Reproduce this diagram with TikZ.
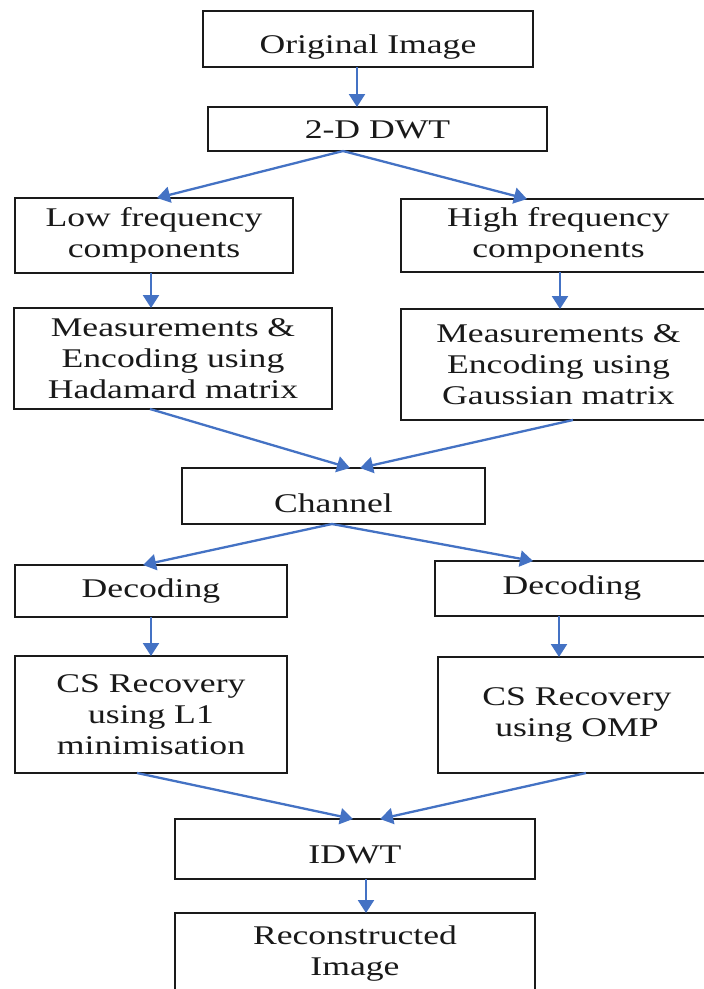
\documentclass[tikz,border=0pt]{standalone}
\usepackage{fontspec}
\setmainfont{Liberation Serif}[FakeStretch=1.32]
\usetikzlibrary{arrows.meta}
\definecolor{arrblue}{HTML}{4472C4}
\definecolor{edgegray}{HTML}{1A1A1A}
\begin{document}
\begin{tikzpicture}[x=1pt,y=-1pt,
  box/.style={draw=edgegray,line width=2.2pt,inner sep=0pt,outer sep=0pt,
    align=center,font=\fontsize{27}{31}\selectfont,text=black!90},
  arr/.style={draw=arrblue,line width=2.3pt,-{Triangle[length=13pt,width=16pt]}}]
\useasboundingbox[fill=white] (0,0) rectangle (704,989);

\node[box,minimum width=330pt,minimum height=56pt,text height=28pt,text depth=0pt] (orig) at (368,39) {Original Image};
\node[box,minimum width=339pt,minimum height=44pt,text height=18pt,text depth=0pt] (dwt) at (377.5,129) {2-D DWT};
\node[box,minimum width=278pt,minimum height=75pt] (low) at (154,235.5) {Low frequency\\components};
\node[box,minimum width=315pt,minimum height=73pt] (high) at (558.5,235.5) {High frequency\\components};
\node[box,minimum width=318pt,minimum height=101pt] (measl) at (173,358.5) {Measurements \&\\Encoding using\\Hadamard matrix};
\node[box,minimum width=315pt,minimum height=111pt] (measr) at (558.5,364.5) {Measurements \&\\Encoding using\\Gaussian matrix};
\node[box,minimum width=303pt,minimum height=56pt,text height=32pt,text depth=0pt] (chan) at (333.5,496) {Channel};
\node[box,minimum width=272pt,minimum height=52pt] (decl) at (151,591) {Decoding};
\node[box,minimum width=274pt,minimum height=55pt] (decr) at (572,588.5) {Decoding};
\node[box,minimum width=272pt,minimum height=117pt] (csl) at (151,714.5) {CS Recovery\\using L1\\minimisation};
\node[box,minimum width=278pt,minimum height=116pt] (csr) at (577,715) {CS Recovery\\using OMP};
\node[box,minimum width=360pt,minimum height=60pt,text height=28pt,text depth=0pt] (idwt) at (355,849) {IDWT};
\node[box,minimum width=360pt,minimum height=82pt] (recon) at (355,954) {Reconstructed\\Image};

\draw[arr] ([xshift=-11pt]orig.south) -- ([xshift=-20.5pt]dwt.north);
\draw[arr] ([xshift=-34.5pt]dwt.south) -- ([xshift=3pt]low.north);
\draw[arr] ([xshift=-34.5pt]dwt.south) -- ([xshift=-31.5pt]high.north);
\draw[arr] ([xshift=-3pt]low.south) -- ([xshift=-22pt]measl.north);
\draw[arr] ([xshift=1.5pt]high.south) -- ([xshift=1.5pt]measr.north);
\draw[arr] ([xshift=-23pt]measl.south) -- ([xshift=16.5pt]chan.north);
\draw[arr] ([xshift=14.5pt]measr.south) -- ([xshift=26.5pt]chan.north);
\draw[arr] ([xshift=-1.5pt]chan.south) -- ([xshift=-8pt]decl.north);
\draw[arr] ([xshift=-1.5pt]chan.south) -- ([xshift=-39pt]decr.north);
\draw[arr] (decl.south) -- (csl.north);
\draw[arr] ([xshift=-13pt]decr.south) -- ([xshift=-18pt]csr.north);
\draw[arr] ([xshift=-14pt]csl.south) -- ([xshift=-2pt]idwt.north);
\draw[arr] ([xshift=9pt]csr.south) -- ([xshift=25pt]idwt.north);
\draw[arr] ([xshift=11pt]idwt.south) -- ([xshift=11pt]recon.north);
\end{tikzpicture}
\end{document}
